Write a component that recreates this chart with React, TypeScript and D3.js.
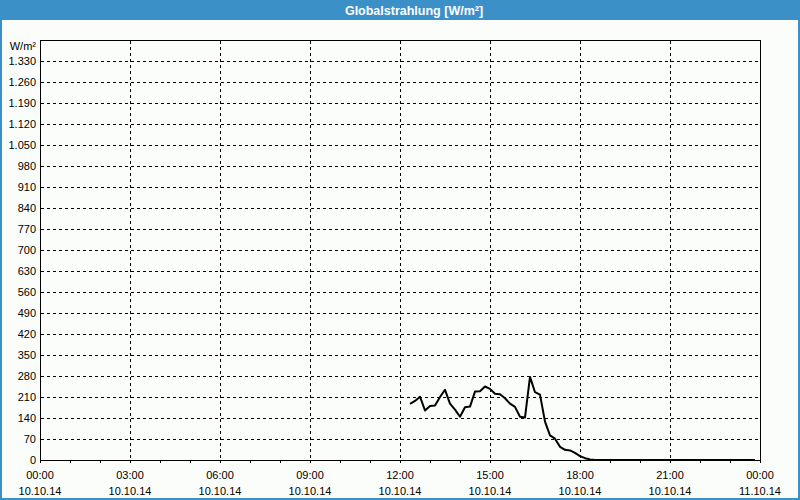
import React from "react";
import * as d3 from "d3";

const TITLE = "Globalstrahlung [W/m²]";
const UNIT = "W/m²";

const TIMES = [
  "12:20", "12:30", "12:40", "12:50", "13:00", "13:10", "13:20", "13:30", "13:40", "13:50",
  "14:00", "14:10", "14:20", "14:30", "14:40", "14:50", "15:00", "15:10", "15:20", "15:30",
  "15:40", "15:50", "16:00", "16:10", "16:20", "16:30", "16:40", "16:50", "17:00", "17:10",
  "17:20", "17:30", "17:40", "17:50", "18:00", "18:10", "18:20", "18:30", "18:40", "18:50",
  "19:00", "19:10", "19:20", "19:30", "19:40", "19:50", "20:00", "20:10", "20:20", "20:30",
  "20:40", "20:50", "21:00", "21:10", "21:20", "21:30", "21:40", "21:50", "22:00", "22:10",
  "22:20", "22:30", "22:40", "22:50", "23:00", "23:10", "23:20", "23:30", "23:40", "23:50",
];

const VALUES = [
  187, 197, 211, 165, 180, 182, 210, 234, 188, 168,
  144, 176, 178, 228, 229, 245, 237, 221, 219, 206,
  188, 177, 144, 142, 277, 226, 218, 128, 82, 71,
  44, 34, 32, 24, 13, 6, 2, 0, 0, 0,
  0, 0, 0, 0, 0, 0, 0, 0, 0, 0,
  0, 0, 0, 0, 0, 0, 0, 0, 0, 0,
  0, 0, 0, 0, 0, 0, 0, 0, 0, 0,
];

const Y_TICKS = [0, 70, 140, 210, 280, 350, 420, 490, 560, 630, 700, 770, 840, 910, 980, 1050, 1120, 1190, 1260, 1330];
const Y_MAX = 1400;

const X_TICK_HOURS = [0, 3, 6, 9, 12, 15, 18, 21, 24];
const X_TIME_LABELS = ["00:00", "03:00", "06:00", "09:00", "12:00", "15:00", "18:00", "21:00", "00:00"];
const X_DATE_LABELS = ["10.10.14", "10.10.14", "10.10.14", "10.10.14", "10.10.14", "10.10.14", "10.10.14", "10.10.14", "11.10.14"];

const W = 800;
const H = 500;
const M = { left: 40, right: 40, top: 40, bottom: 40 };
const BLUE = "#3c90c8";
const BG = "#fbfdfb";
const FONT = "'Liberation Sans', Arial, sans-serif";

const locale = d3.formatLocale({ decimal: ",", thousands: ".", grouping: [3], currency: ["", "€"] });
const fmt = locale.format(",d");

function toHours(t: string) {
  const [h, m] = t.split(":").map(Number);
  return h + m / 60;
}

export default function App() {
  const x = d3.scaleLinear().domain([0, 24]).range([M.left, W - M.right]);
  const y = d3.scaleLinear().domain([0, Y_MAX]).range([H - M.bottom, M.top]);
  const data = TIMES.map((t, i) => ({ h: toHours(t), v: VALUES[i] }));
  const line = d3
    .line<{ h: number; v: number }>()
    .x((d) => x(d.h))
    .y((d) => y(d.v));
  const minor = x.ticks(24);
  const x0 = M.left, x1 = W - M.right, y0 = H - M.bottom, y1 = M.top;

  return (
    <svg
      width={W}
      height={H}
      style={{ position: "absolute", left: 0, top: 0, display: "block" }}
      fontFamily={FONT}
    >
      <rect x={0} y={0} width={W} height={H} fill={BG} />
      <rect x={0} y={0} width={W} height={20} fill={BLUE} />
      <rect x={1} y={1} width={W - 2} height={H - 2} fill="none" stroke={BLUE} strokeWidth={2} />
      <text x={414} y={14.5} textAnchor="middle" fill="#ffffff" fontWeight="bold" fontSize={12.5}>
        {TITLE}
      </text>

      <g shapeRendering="crispEdges">
        {Y_TICKS.filter((v) => v > 0).map((v) => (
          <line
            key={"gy" + v}
            x1={x0 + 1}
            x2={x1}
            y1={Math.round(y(v)) + 0.5}
            y2={Math.round(y(v)) + 0.5}
            stroke="#000"
            strokeDasharray="3,3"
          />
        ))}
        {X_TICK_HOURS.filter((h) => h > 0 && h < 24).map((h) => (
          <line
            key={"gx" + h}
            x1={Math.round(x(h)) + 0.5}
            x2={Math.round(x(h)) + 0.5}
            y1={y1 + 1}
            y2={y0}
            stroke="#000"
            strokeDasharray="3,3"
          />
        ))}
        {minor.map((h) => (
          <line
            key={"mt" + h}
            x1={Math.round(x(h)) + 0.5}
            x2={Math.round(x(h)) + 0.5}
            y1={y0}
            y2={y0 + 3}
            stroke="#000"
          />
        ))}
        <rect x={x0 + 0.5} y={y1 + 0.5} width={x1 - x0} height={y0 - y1} fill="none" stroke="#000" />
      </g>

      <path d={line(data) || ""} fill="none" stroke="#000" strokeWidth={2} strokeLinejoin="round" />

      <g fontSize={11} fill="#000">
        <text x={36} y={50} textAnchor="end">{UNIT}</text>
        {Y_TICKS.map((v) => (
          <text key={"yl" + v} x={36} y={y(v) + 4} textAnchor="end">
            {fmt(v)}
          </text>
        ))}
        {X_TICK_HOURS.map((h, i) => (
          <g key={"xl" + i}>
            <text x={x(h)} y={479} textAnchor="middle">{X_TIME_LABELS[i]}</text>
            <text x={x(h)} y={495} textAnchor="middle">{X_DATE_LABELS[i]}</text>
          </g>
        ))}
      </g>
    </svg>
  );
}
